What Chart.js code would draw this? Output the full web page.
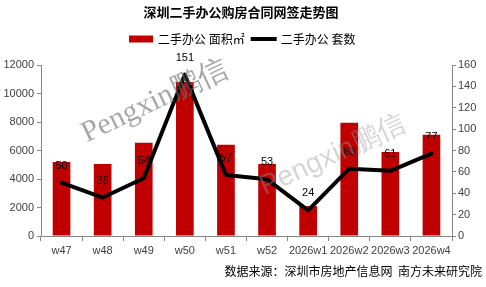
<!DOCTYPE html>
<html><head><meta charset="utf-8">
<script src="https://cdn.jsdelivr.net/npm/chart.js@4"></script>
<style>html,body{margin:0;padding:0;background:#fff}#wrap{width:486px;height:287px;position:relative}</style>
</head><body><div id="wrap"><canvas id="c"></canvas></div>
<script>
const categories = ['w47','w48','w49','w50','w51','w52','2026w1','2026w2','2026w3','2026w4'];
const areaValues = [5200, 5050, 6550, 10800, 6400, 5050, 2100, 7950, 5900, 7100];
const countValues = [50, 36, 54, 151, 57, 53, 24, 63, 61, 77];
const areaLabel = '二手办公 面积㎡';
const countLabel = '二手办公 套数';
const titleText = '深圳二手办公购房合同网签走势图';
const sourceText = '数据来源：深圳市房地产信息网  南方未来研究院';
const watermarkText = 'Pengxin鹏信';

const CJK = '"Noto Sans CJK SC", "Noto Sans", sans-serif';
const NUM = '"Liberation Sans", Arial, sans-serif';

const overlay = {
  id: 'overlay',
  afterDatasetsDraw(chart) {
    const ctx = chart.ctx;
    const meta = chart.getDatasetMeta(1);
    ctx.save();
    ctx.font = '11px ' + NUM;
    ctx.fillStyle = '#000';
    ctx.textAlign = 'center';
    ctx.textBaseline = 'middle';
    meta.data.forEach((pt, i) => {
      ctx.fillText(String(countValues[i]), pt.x, pt.y - 17);
    });
    ctx.restore();
    ctx.save();
    ctx.translate(86.7, 142.6);
    ctx.rotate(-25.4 * Math.PI / 180);
    ctx.font = '30px "Liberation Serif", "DejaVu Serif", serif';
    ctx.fillStyle = 'rgba(110,110,110,0.6)';
    ctx.textBaseline = 'alphabetic';
    ctx.fillText(watermarkText, 0, 0);
    ctx.restore();
    ctx.save();
    ctx.translate(264.8, 195.3);
    ctx.rotate(-24.7 * Math.PI / 180);
    ctx.font = '28px "Liberation Sans", Arial, sans-serif';
    ctx.fillStyle = 'rgba(150,150,150,0.4)';
    ctx.textBaseline = 'alphabetic';
    ctx.fillText(watermarkText, 0, 0);
    ctx.restore();
  },
  afterDraw(chart) {
    const ctx = chart.ctx;
    ctx.save();
    ctx.font = '12px ' + CJK;
    ctx.textBaseline = 'middle';
    ctx.fillStyle = '#C00000';
    let x = 129;
    const y = 39;
    ctx.fillRect(x, y - 3.5, 24, 7);
    x += 29;
    ctx.fillStyle = '#000';
    ctx.fillText(areaLabel, x, y);
    x += ctx.measureText(areaLabel).width + 6;
    ctx.strokeStyle = '#000';
    ctx.lineWidth = 4;
    ctx.beginPath();
    ctx.moveTo(x, y);
    ctx.lineTo(x + 26, y);
    ctx.stroke();
    x += 30;
    ctx.fillText(countLabel, x, y);
    ctx.restore();
  }
};

new Chart(document.getElementById('c'), {
  data: {
    labels: categories,
    datasets: [
      {
        type: 'bar', label: areaLabel, data: areaValues,
        backgroundColor: '#C00000', borderWidth: 0,
        barPercentage: 0.43, categoryPercentage: 1.0,
        yAxisID: 'y', order: 1
      },
      {
        type: 'line', label: countLabel, data: countValues,
        borderColor: '#000', backgroundColor: '#000', borderWidth: 4,
        pointRadius: 0, tension: 0, yAxisID: 'y1', order: 0,
        borderJoinStyle: 'round', borderCapStyle: 'round'
      }
    ]
  },
  options: {
    responsive: true, maintainAspectRatio: false, animation: false,
    layout: { padding: { left: 0, right: 4, top: 0, bottom: 0 } },
    plugins: {
      legend: { display: false },
      tooltip: { enabled: false },
      title: {
        display: true, text: titleText, color: '#000',
        font: { family: CJK, size: 13, weight: 'bold', lineHeight: 1.2 },
        padding: { top: 4, bottom: 45.4 }
      },
      subtitle: {
        display: true, text: sourceText, position: 'bottom', align: 'end', color: '#000',
        font: { family: CJK, size: 12, lineHeight: 1.2 },
        padding: { top: 0, bottom: 8.6 }
      }
    },
    scales: {
      x: {
        offset: true,
        grid: { display: true, drawOnChartArea: false, drawTicks: true, tickLength: 5, offset: true, color: '#868686' },
        border: { display: true, color: '#868686', width: 1 },
        ticks: { color: '#404040', font: { family: NUM, size: 11 }, padding: 3, maxRotation: 0, autoSkip: false },
        afterFit(s) { s.height = 28; }
      },
      y: {
        position: 'left', min: 0, max: 12000,
        grid: { display: true, drawOnChartArea: false, drawTicks: true, tickLength: 4, color: '#868686' },
        border: { display: true, color: '#868686', width: 1 },
        ticks: { stepSize: 2000, color: '#404040', font: { family: NUM, size: 11 }, padding: 3,
          callback: (v) => String(v) },
        afterFit(s) { s.width = 41; }
      },
      y1: {
        position: 'right', min: 0, max: 160,
        grid: { display: true, drawOnChartArea: false, drawTicks: true, tickLength: 4, color: '#868686' },
        border: { display: true, color: '#868686', width: 1 },
        ticks: { stepSize: 20, color: '#404040', font: { family: NUM, size: 11 }, padding: 2,
          callback: (v) => String(v) },
        afterFit(s) { s.width = 30; }
      }
    }
  },
  plugins: [overlay]
});
</script>
</body></html>
